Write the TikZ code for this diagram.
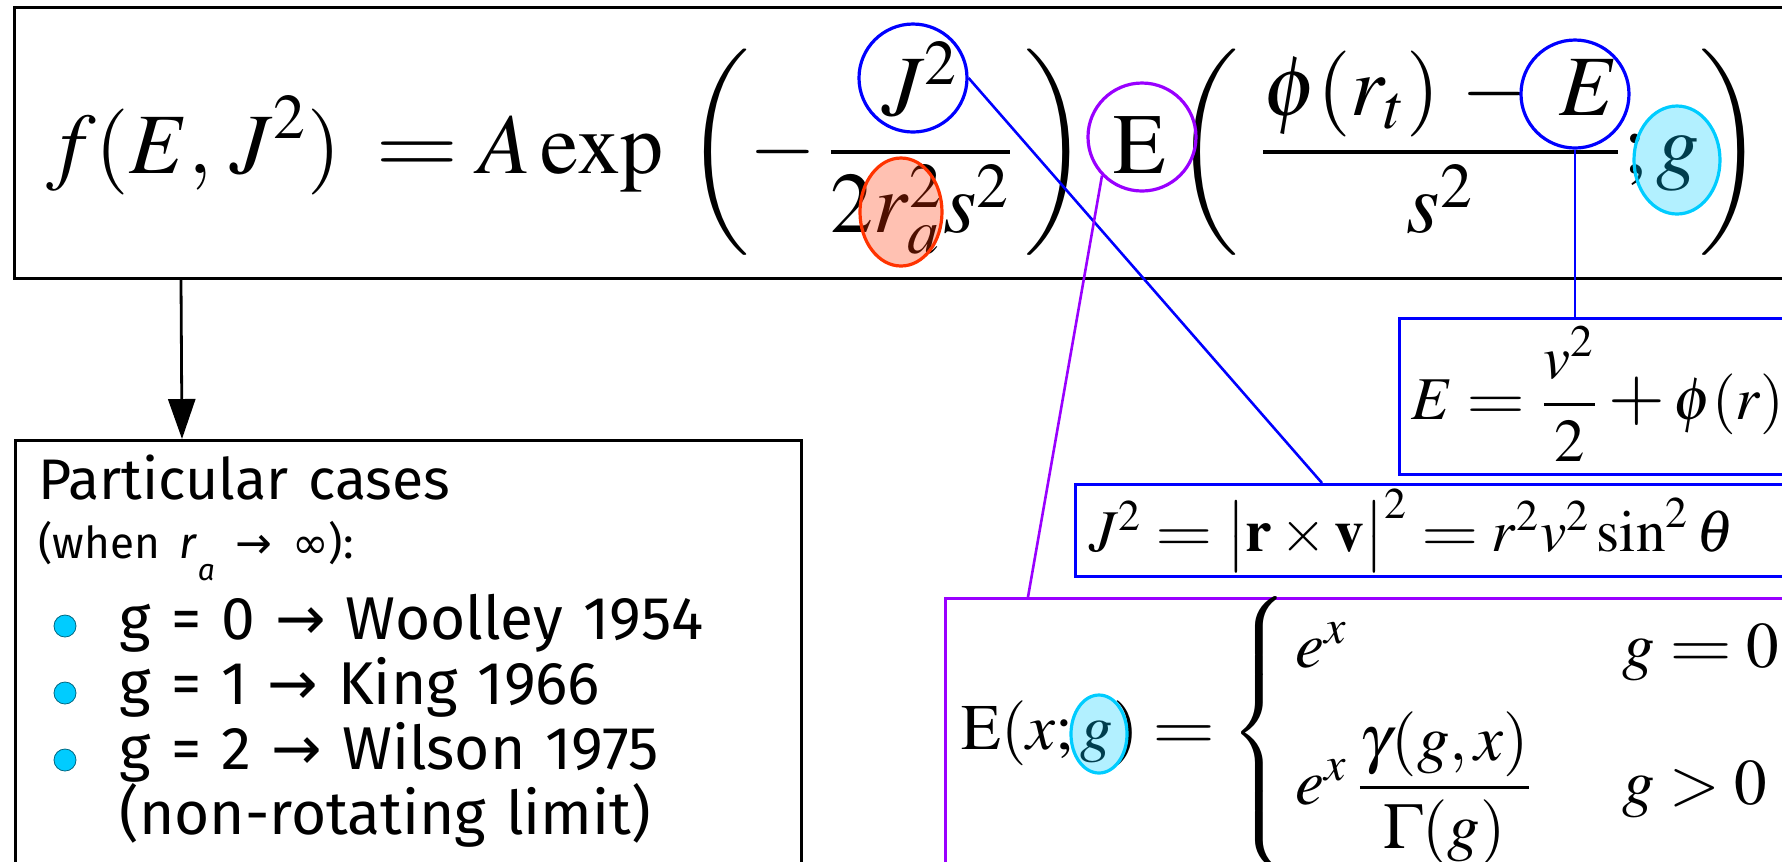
\documentclass[tikz,border=0pt]{standalone}
\usepackage{amsmath}
\usepackage{mathptmx}
\usepackage[no-math]{fontspec}
\setsansfont{Fira Sans}
\newfontfamily\symfont{DejaVu Sans}
\usepackage{tikz}
\usetikzlibrary{arrows.meta,shapes.geometric}
\definecolor{ringblue}{HTML}{0000FF}
\definecolor{ringviolet}{HTML}{9900FF}
\definecolor{ringred}{HTML}{FF3300}
\definecolor{ringcyan}{HTML}{00CCFF}
% wide equals and plus signs
\newcommand{\weq}{\mathrel{\scalebox{1.25}[1]{$=$}}}
\newcommand{\wplus}{\mathbin{\scalebox{1.2}{$+$}}}

\begin{document}
\begin{tikzpicture}[
    x=0.25pt, y=-0.25pt,
    box/.style={rectangle, draw, line width=0.75pt, align=left, inner ysep=0pt, anchor=north west},
    ring/.style={ellipse, draw, line width=0.8pt, inner sep=0pt},
    link/.style={line width=0.65pt},
    arr/.style={-{Triangle[width=6.75pt,length=10pt]}, line width=0.7pt},
    dot/.style={circle, fill=ringcyan, draw=ringcyan!50!black, line width=0.2pt, minimum size=5.5pt, inner sep=0pt}
]
\useasboundingbox (0,0) rectangle (1782,861);
\clip (0,0) rectangle (1782,861);

% distribution function
\node[box, inner xsep=8pt, text width=430pt, text height=41.5pt, text depth=26.25pt] (fbox) at (13,6)
    {\fontsize{21.5}{26}\selectfont\makebox[160pt][l]{$\displaystyle f(E,\,J^2)\hspace{4pt}\weq A\exp$}%
     $\displaystyle\left(-\,\frac{J^2}{2r_a^2s^2}\,\right)\hspace{4pt}\mathrm{E}\left(\,\,\frac{\phi(r_t)\,-\;E}{s^2};g\right)$};

% definitions
\node[box, draw=ringblue, inner xsep=3pt, text width=120pt, text height=25.25pt, text depth=13.75pt] (Ebox) at (1398,317)
    {\fontsize{15.2}{18}\selectfont$\displaystyle E\weq\frac{v^2}{2}\wplus\phi(r)$};
\node[box, draw=ringblue, inner xsep=3.5pt, text width=190pt, text height=16.75pt, text depth=6.25pt] (Jbox) at (1074,483)
    {\fontsize{14.8}{18}\selectfont$J^2\weq\bigl|\mathbf{r}\times\mathbf{v}\bigr|^2\weq r^2v^2\sin^2\theta$};
\node[box, draw=ringviolet, inner xsep=4pt, text width=220pt, text height=37.75pt, text depth=32.5pt] (Pbox) at (944,597)
    {\fontsize{16.25}{19.5}\selectfont$\displaystyle \mathrm{E}(x;g)\weq\begin{cases} \,e^x & \hspace{6pt}g\weq 0\\[4pt] \,e^x\,\dfrac{\gamma(g,x)}{\Gamma(g)} & \hspace{6pt}g>0\end{cases}$};

% particular cases
\node[box, inner xsep=5.75pt, inner ysep=3.5pt, text width=185pt, text depth=95pt,
      font=\fontsize{15.1}{16.25}\selectfont\sffamily] (cases) at (14,439)
    {{\fontsize{14.3}{15}\selectfont Particular cases}\\[-1.5pt]
     {\fontsize{11}{12}\selectfont (when \textit{r}\raisebox{-5.5pt}{\fontsize{7.5}{8}\selectfont\itshape a}\ {\symfont →} {\symfont ∞}):}\\[2.5pt]
     \hspace*{20.25pt}g = 0 {\symfont →} Woolley 1954\\
     \hspace*{20.25pt}g = 1 {\symfont →} King 1966\\
     \hspace*{20.25pt}g = 2 {\symfont →} Wilson 1975\\
     \hspace*{20.25pt}(non-rotating limit)};
\foreach \yy [count=\i] in {626,693,760}
    \node[dot] (dot\i) at (65,\yy) {};

\draw[arr] ([xshift=42pt]fbox.south west) -- ([xshift=42pt]cases.north west);

% highlighted terms
\node[ring, draw=ringblue, minimum width=27pt, minimum height=27pt] (cJ) at (913,78) {};
\node[ring, draw=ringred, fill=ringred, fill opacity=0.3, minimum width=20.5pt, minimum height=27pt] (cra) at (901,212) {};
\node[ring, draw=ringviolet, minimum width=27pt, minimum height=27pt] (cEf) at (1142,137) {};
\node[ring, draw=ringblue, minimum width=27pt, minimum height=27pt] (cE) at (1575,94) {};
\node[ring, draw=ringcyan, fill=ringcyan, fill opacity=0.3, minimum width=21.5pt, minimum height=27pt] (cg) at (1677,160) {};
\node[ring, draw=ringcyan, fill=ringcyan, fill opacity=0.3, minimum width=14pt, minimum height=19.5pt] (cgx) at (1099,734) {};

\draw[link, ringblue] (cJ.east) -- ([xshift=62pt]Jbox.north west);
\draw[link, ringblue] (cE.south) -- (cE.south |- Ebox.north);
\draw[link, ringviolet] (cEf.224) -- ([xshift=21pt]Pbox.north west);
\end{tikzpicture}
\end{document}
